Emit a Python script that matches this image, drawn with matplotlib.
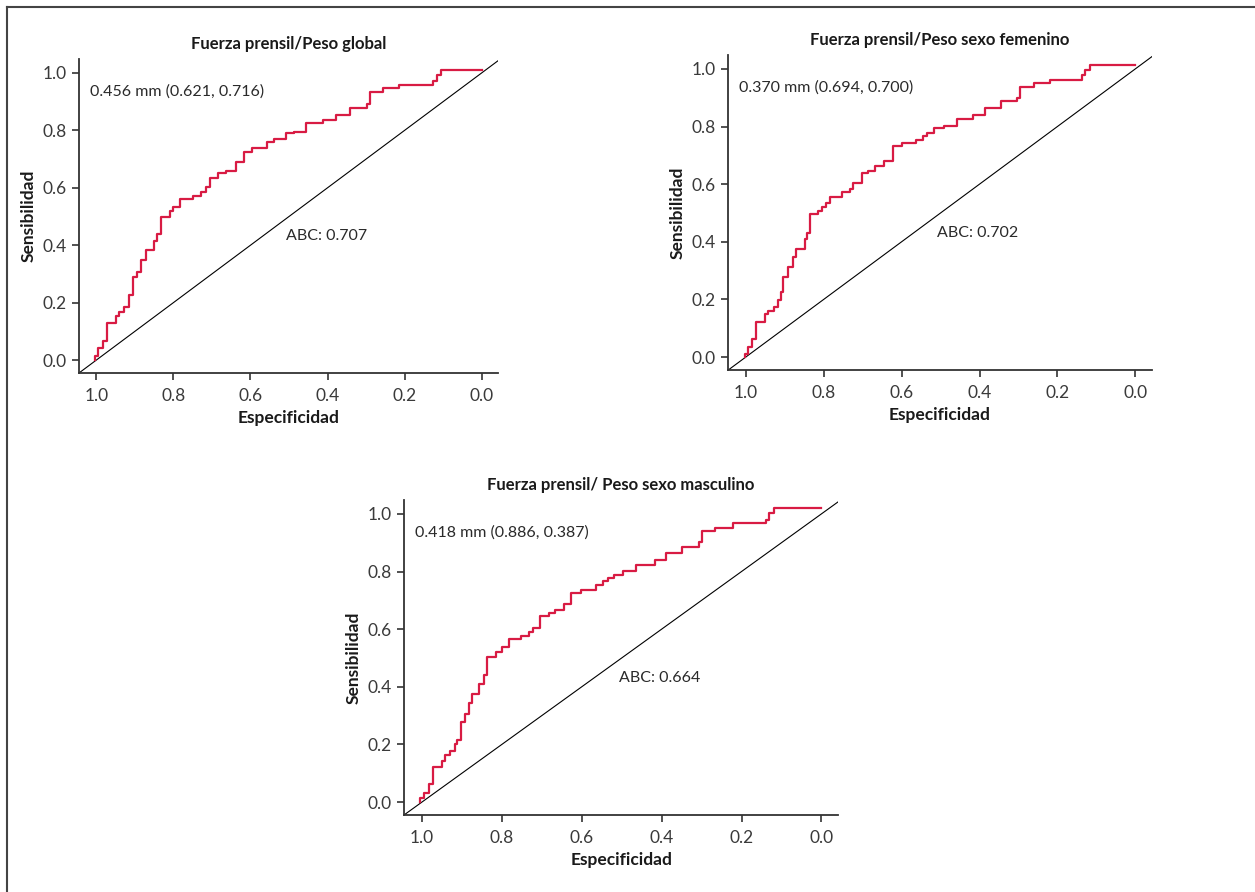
import matplotlib
matplotlib.use('Agg')
import matplotlib.pyplot as plt
from matplotlib.lines import Line2D

plt.rcParams['font.family'] = ['Lato', 'DejaVu Sans']

# specificity where each step up happens, and the sensitivity after it
spec_global = [1.004, 0.996, 0.983, 0.971, 0.949, 0.940, 0.927, 0.914, 0.905, 0.895,
               0.884, 0.871, 0.850, 0.843, 0.832, 0.810, 0.801, 0.782, 0.750, 0.728,
               0.715, 0.705, 0.683, 0.663, 0.637, 0.618, 0.597, 0.558, 0.538, 0.508,
               0.487, 0.457, 0.411, 0.379, 0.342, 0.299, 0.290, 0.257, 0.215, 0.126,
               0.116, 0.107]
sens_global = [0.015, 0.042, 0.067, 0.129, 0.152, 0.166, 0.184, 0.227, 0.291, 0.308,
               0.349, 0.384, 0.416, 0.438, 0.499, 0.519, 0.534, 0.561, 0.572, 0.586,
               0.601, 0.635, 0.652, 0.659, 0.688, 0.725, 0.740, 0.760, 0.768, 0.789,
               0.795, 0.824, 0.835, 0.853, 0.878, 0.891, 0.932, 0.948, 0.959, 0.972,
               0.992, 1.009]

spec_fem = [1.003, 0.994, 0.985, 0.973, 0.951, 0.942, 0.928, 0.918, 0.909, 0.904,
            0.892, 0.878, 0.872, 0.849, 0.842, 0.836, 0.815, 0.804, 0.794, 0.783,
            0.753, 0.733, 0.725, 0.701, 0.686, 0.669, 0.646, 0.623, 0.599, 0.562,
            0.545, 0.536, 0.516, 0.490, 0.457, 0.416, 0.385, 0.346, 0.304, 0.295,
            0.259, 0.220, 0.137, 0.128, 0.117]
sens_fem = [0.012, 0.035, 0.062, 0.120, 0.149, 0.159, 0.174, 0.197, 0.224, 0.278,
            0.313, 0.346, 0.374, 0.408, 0.432, 0.497, 0.507, 0.522, 0.534, 0.557,
            0.572, 0.584, 0.603, 0.640, 0.647, 0.664, 0.682, 0.731, 0.742, 0.752,
            0.766, 0.777, 0.795, 0.803, 0.827, 0.841, 0.864, 0.890, 0.899, 0.936,
            0.951, 0.962, 0.977, 0.995, 1.012]

spec_masc = [1.004, 0.996, 0.983, 0.972, 0.950, 0.943, 0.929, 0.918, 0.912, 0.902,
             0.893, 0.883, 0.874, 0.856, 0.845, 0.836, 0.814, 0.800, 0.781, 0.751,
             0.732, 0.722, 0.705, 0.682, 0.668, 0.645, 0.626, 0.601, 0.565, 0.547,
             0.534, 0.520, 0.497, 0.463, 0.417, 0.388, 0.349, 0.307, 0.299, 0.267,
             0.221, 0.138, 0.131, 0.119]
sens_masc = [0.014, 0.031, 0.063, 0.121, 0.142, 0.164, 0.176, 0.200, 0.217, 0.278,
             0.304, 0.345, 0.375, 0.410, 0.441, 0.502, 0.522, 0.537, 0.565, 0.576,
             0.589, 0.605, 0.645, 0.657, 0.666, 0.689, 0.726, 0.736, 0.753, 0.768,
             0.778, 0.787, 0.802, 0.824, 0.839, 0.865, 0.886, 0.904, 0.939, 0.950,
             0.968, 0.979, 1.002, 1.020]

titles = ['Fuerza prensil/Peso global', 'Fuerza prensil/Peso sexo femenino',
          'Fuerza prensil/ Peso sexo masculino']
cutoff_labels = ['0.456 mm (0.621, 0.716)', '0.370 mm (0.694, 0.700)',
                 '0.418 mm (0.886, 0.387)']
auc_labels = ['ABC: 0.707', 'ABC: 0.702', 'ABC: 0.664']
ticks = [1.0, 0.8, 0.6, 0.4, 0.2, 0.0]

curves = [(spec_global, sens_global), (spec_fem, sens_fem), (spec_masc, sens_masc)]
positions = [[0.0629, 0.5818, 0.3339, 0.3520],
             [0.5803, 0.5852, 0.3374, 0.3531],
             [0.3219, 0.0863, 0.3460, 0.3531]]

red = '#d81b43'
grey = '#333333'

fig = plt.figure(figsize=(12.55, 8.92), dpi=100)

for i in range(3):
    ax = fig.add_axes(positions[i])
    spec, sens = curves[i]
    xs = [spec[0]] + spec + [0.0]
    ys = [0.0] + sens + [sens[-1]]
    ax.plot(xs, ys, drawstyle='steps-post', color=red, lw=1.6, zorder=3)
    ax.plot([1.1, -0.1], [-0.1, 1.1], color='black', lw=0.8, zorder=2)
    ax.set_xlim(1.045, -0.042)
    ax.set_ylim(-0.045, 1.048)
    ax.set_xticks(ticks)
    ax.set_yticks(ticks)
    ax.set_xticklabels(['%.1f' % t for t in ticks])
    ax.set_yticklabels(['%.1f' % t for t in ticks])
    for s in ['top', 'right']:
        ax.spines[s].set_visible(False)
    for s in ['left', 'bottom']:
        ax.spines[s].set_linewidth(1.3)
        ax.spines[s].set_color(grey)
    ax.tick_params(direction='out', length=5, width=1.2, color=grey,
                   labelsize=12.5, labelcolor='#3a3a3a')
    ax.tick_params(axis='x', pad=6)
    ax.tick_params(axis='y', pad=4)
    ax.set_title(titles[i], fontsize=12, fontweight='bold', pad=7, color='#1a1a1a')
    ax.set_xlabel('Especificidad', fontsize=12.5, fontweight='bold', color='#1a1a1a', labelpad=4)
    ax.set_ylabel('Sensibilidad', fontsize=12.5, fontweight='bold', color='#1a1a1a', labelpad=4)
    ax.text(1.017, 0.935, cutoff_labels[i], fontsize=11.5, color='#2a2a2a', va='center', ha='left')
    ax.text(0.508, 0.432, auc_labels[i], fontsize=11.5, color='#2a2a2a', va='center', ha='left')

# outer frame (top and left edges only)
fig.add_artist(Line2D([7 / 1255, 1.0], [1 - 7 / 892, 1 - 7 / 892], color='#444444', lw=1.5))
fig.add_artist(Line2D([7 / 1255, 7 / 1255], [0.0, 1 - 7 / 892], color='#444444', lw=1.5))

fig.savefig('out.png', dpi=100, facecolor='white')
